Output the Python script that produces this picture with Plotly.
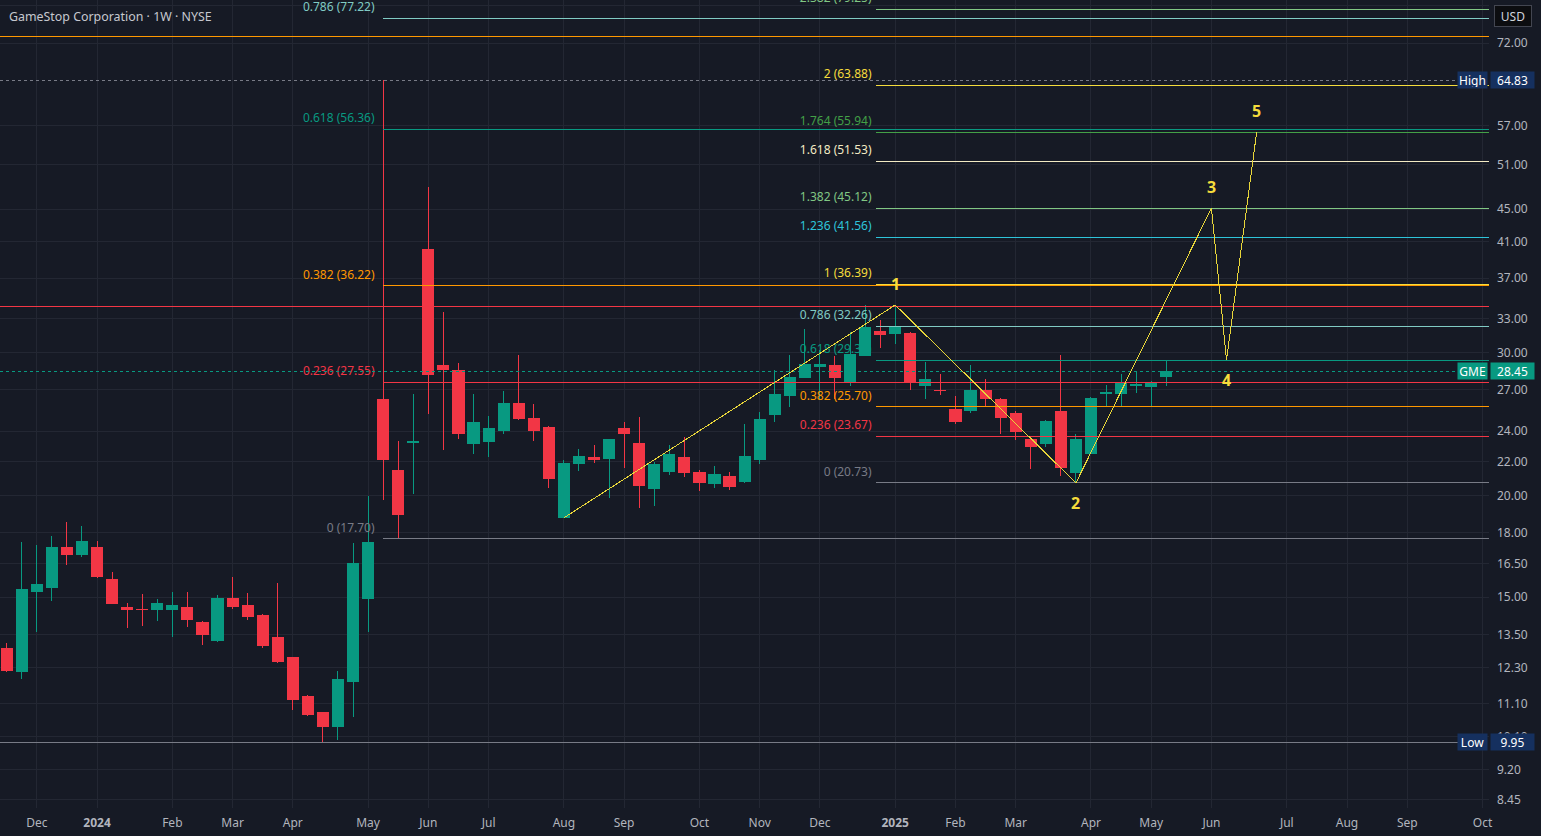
import numpy as np
import pandas as pd
import plotly.graph_objects as go

# weekly candles, GME, 20 Nov 2023 -> 12 May 2025
weeks = pd.date_range("2023-11-20", periods=78, freq="W-MON")
opens = [12.99, 12.15, 15.24, 15.41, 17.25, 16.92, 17.25, 15.75, 14.59, 14.50,
         14.48, 14.48, 14.59, 13.95, 13.26, 14.93, 14.64, 14.23, 13.40, 12.63,
         11.31, 10.81, 10.40, 11.81, 14.94, 26.28, 21.50, 23.25, 40.08, 28.94,
         28.53, 23.17, 23.30, 24.02, 25.92, 24.86, 24.22, 18.78, 21.89, 22.30,
         22.20, 24.15, 23.19, 20.39, 21.44, 22.30, 21.32, 20.68, 21.08, 20.79,
         22.14, 25.15, 26.55, 27.92, 28.86, 28.94, 27.58, 29.72, 31.78, 31.61,
         31.60, 27.30, 26.94, 25.55, 25.43, 26.96, 26.28, 25.20, 23.41, 23.17,
         25.34, 21.33, 22.51, 26.69, 26.69, 27.30, 27.23, 28.01]
highs = [13.17, 17.54, 17.39, 17.84, 18.56, 18.36, 17.59, 16.12, 14.76, 15.14,
         14.93, 15.22, 15.22, 14.03, 15.10, 15.88, 15.18, 14.31, 15.62, 12.68,
         11.38, 10.84, 12.18, 17.49, 20.00, 64.83, 23.34, 26.66, 47.94, 33.63,
         29.10, 26.66, 25.05, 26.89, 29.78, 25.92, 24.36, 22.12, 22.81, 23.08,
         23.50, 24.63, 24.98, 22.01, 23.08, 23.61, 21.50, 21.75, 21.38, 24.49,
         25.34, 28.53, 29.78, 32.05, 30.20, 29.69, 31.78, 34.30, 32.87, 34.30,
         31.78, 29.21, 28.21, 26.51, 28.94, 27.82, 26.38, 25.43, 23.45, 24.77,
         29.78, 23.81, 26.43, 27.35, 28.21, 28.37, 27.66, 29.35]
lows = [12.15, 11.90, 13.58, 14.86, 16.45, 16.83, 15.85, 14.70, 13.73, 13.84,
        14.04, 13.42, 13.77, 13.11, 13.21, 14.52, 14.08, 13.00, 12.45, 10.91,
        10.73, 9.95, 10.01, 10.70, 13.61, 19.75, 17.70, 20.11, 25.21, 22.77,
        23.50, 22.51, 22.33, 23.83, 24.80, 23.36, 20.45, 18.75, 21.46, 21.96,
        19.88, 21.64, 19.33, 19.44, 21.20, 21.10, 20.28, 20.45, 20.33, 20.74,
        21.89, 24.65, 25.72, 27.90, 26.21, 26.30, 27.26, 29.70, 30.40, 30.75,
        26.98, 26.31, 26.61, 24.51, 25.29, 25.72, 23.83, 23.43, 21.58, 22.96,
        21.16, 20.73, 22.48, 25.72, 25.79, 26.75, 25.72, 27.30]
closes = [12.19, 15.31, 15.53, 17.25, 16.92, 17.54, 15.90, 14.73, 14.48, 14.48,
          14.72, 14.64, 14.08, 13.50, 14.93, 14.61, 14.20, 13.08, 12.49, 11.23,
          10.76, 10.40, 11.90, 16.48, 17.49, 22.16, 18.93, 23.30, 28.15, 28.61,
          23.83, 24.63, 24.15, 25.99, 24.86, 24.02, 20.98, 21.93, 22.37, 22.14,
          23.41, 23.83, 20.57, 21.81, 22.44, 21.33, 20.74, 21.20, 20.51, 22.37,
          24.84, 26.59, 27.90, 29.02, 29.02, 27.92, 29.78, 32.15, 31.51, 32.23,
          27.51, 27.74, 26.91, 24.65, 26.96, 26.30, 24.93, 23.95, 22.96, 24.70,
          21.64, 23.47, 26.36, 26.76, 27.43, 27.38, 27.43, 28.45]

last_price = 28.45
high_price = 64.83
low_price = 9.95

# fib retracement drawn from the May 2024 spike
fib1_start = "2024-05-13"
fib1_levels = ["0", "0.236", "0.382", "0.618", "0.786"]
fib1_prices = [17.70, 27.55, 36.22, 56.36, 77.22]
fib1_colors = ["#787B86", "#F23645", "#FF9800", "#089981", "#80CBC4"]

# trend-based extension for the wave count
fib2_start = "2024-12-28"
fib2_levels = ["0", "0.236", "0.382", "0.618", "0.786", "1", "1.236", "1.382",
               "1.618", "1.764", "2", "2.382"]
fib2_prices = [20.73, 23.67, 25.70, 29.35, 32.26, 36.39, 41.56, 45.12,
               51.53, 55.94, 63.88, 79.25]
fib2_colors = ["#787B86", "#F23645", "#FF9800", "#089981", "#80CBC4", "#F5DC3C",
               "#2EC4DA", "#81C784", "#F3EBC4", "#43A047", "#F5DC3C", "#81C784"]

# plain horizontal lines
hlines = [73.44, 34.15]
hline_colors = ["#FF9800", "#F23645"]

# elliott wave count
wave_dates = ["2024-08-05", "2025-01-06", "2025-03-31", "2025-06-02", "2025-06-09", "2025-06-23"]
wave_prices = [18.78, 34.30, 20.73, 45.12, 29.35, 55.94]
wave_labels = ["", "1", "2", "3", "4", "5"]

tick_prices = [80.0, 72.0, 57.0, 51.0, 45.0, 41.0, 37.0, 33.0, 30.0, 27.0, 24.0, 22.0,
               20.0, 18.0, 16.5, 15.0, 13.5, 12.3, 11.1, 10.1, 9.2, 8.45]
month_ticks = ["2023-12-04", "2024-01-01", "2024-02-05", "2024-03-04", "2024-04-01",
               "2024-05-06", "2024-06-03", "2024-07-01", "2024-08-05", "2024-09-02",
               "2024-10-07", "2024-11-04", "2024-12-02", "2025-01-06", "2025-02-03",
               "2025-03-03", "2025-04-07", "2025-05-05", "2025-06-02", "2025-07-07",
               "2025-08-04", "2025-09-01", "2025-10-06"]
month_names = ["Dec", "<b>2024</b>", "Feb", "Mar", "Apr", "May", "Jun", "Jul", "Aug", "Sep",
               "Oct", "Nov", "Dec", "<b>2025</b>", "Feb", "Mar", "Apr", "May", "Jun", "Jul",
               "Aug", "Sep", "Oct"]

x_left = pd.Timestamp("2024-01-01") - pd.Timedelta(days=45.1)
x_right = pd.Timestamp("2024-01-01") + pd.Timedelta(days=647.0)
x_label_end = pd.Timestamp("2024-01-01") + pd.Timedelta(days=633.0)

BG = "#161A25"
GRID = "#232733"
TXT = "#B2B5BE"
FONT = "Noto Sans"

fig = go.Figure()

# fib labels first so candles sit on top of them
for start, levels, prices, colors, gap in [
        (fib1_start, fib1_levels, fib1_prices, fib1_colors, 4),
        (fib2_start, fib2_levels, fib2_prices, fib2_colors, 2)]:
    for lv, p, c in zip(levels, prices, colors):
        fig.add_trace(go.Scatter(
            x=[pd.Timestamp(start) - pd.Timedelta(days=gap)], y=[p * 1.012],
            mode="text", text=[f"{lv} ({p:.2f})"], textposition="top left",
            textfont=dict(color=c, size=12, family=FONT), cliponaxis=False,
            hoverinfo="skip", showlegend=False))

fig.add_trace(go.Candlestick(
    x=weeks, open=opens, high=highs, low=lows, close=closes,
    increasing=dict(line=dict(color="#089981", width=1), fillcolor="#089981"),
    decreasing=dict(line=dict(color="#F23645", width=1), fillcolor="#F23645"),
    hoverinfo="skip", showlegend=False))

for start, prices, colors in [(fib1_start, fib1_prices, fib1_colors),
                               (fib2_start, fib2_prices, fib2_colors)]:
    for p, c in zip(prices, colors):
        fig.add_trace(go.Scatter(x=[start, x_right], y=[p, p], mode="lines",
                                 line=dict(color=c, width=1),
                                 hoverinfo="skip", showlegend=False))

for p, c in zip(hlines, hline_colors):
    fig.add_trace(go.Scatter(x=[x_left, x_right], y=[p, p], mode="lines",
                             line=dict(color=c, width=1),
                             hoverinfo="skip", showlegend=False))

fig.add_trace(go.Scatter(x=[x_left, x_label_end], y=[high_price, high_price], mode="lines",
                         line=dict(color="#787B86", width=1, dash="dot"),
                         hoverinfo="skip", showlegend=False))
fig.add_trace(go.Scatter(x=[x_left, x_label_end], y=[low_price, low_price], mode="lines",
                         line=dict(color="#787B86", width=1),
                         hoverinfo="skip", showlegend=False))
fig.add_trace(go.Scatter(x=[x_left, x_label_end], y=[last_price, last_price], mode="lines",
                         line=dict(color="#089981", width=1, dash="dot"),
                         hoverinfo="skip", showlegend=False))

fig.add_trace(go.Scatter(x=wave_dates, y=wave_prices, mode="lines",
                         line=dict(color="#E8D63A", width=1),
                         hoverinfo="skip", showlegend=False))

annotations = []
for i, (d, p, lab) in enumerate(zip(wave_dates, wave_prices, wave_labels)):
    if not lab:
        continue
    up = i % 2 == 1
    annotations.append(dict(x=d, y=np.log10(p), xref="x", yref="y", text=f"<b>{lab}</b>",
                            showarrow=False, yshift=21 if up else -20,
                            font=dict(color="#F5DC3C", size=16, family=FONT)))

annotations.append(dict(x=0, y=1, xref="paper", yref="paper", xanchor="left", yanchor="top",
                        xshift=7, yshift=-6, showarrow=False,
                        text="GameStop Corporation · 1W · NYSE",
                        font=dict(color="#C6C8CF", size=12.4, family=FONT)))
annotations.append(dict(x=1, y=1, xref="paper", yref="paper", xanchor="left", yanchor="top",
                        xshift=5, yshift=-5, showarrow=False, text="USD", width=34, height=18,
                        bgcolor="#0C0D10", bordercolor="#434651", borderwidth=1,
                        font=dict(color="#D1D4DC", size=12, family=FONT)))

for lab, val, col in [("GME", last_price, "#089981"), ("High", high_price, "#15305F"),
                      ("Low", low_price, "#15305F")]:
    annotations.append(dict(x=1, y=np.log10(val), xref="paper", yref="y", xanchor="right",
                            xshift=-1, showarrow=False, text=lab, width=27, height=14,
                            bgcolor=col, font=dict(color="white", size=12, family=FONT)))
    annotations.append(dict(x=1, y=np.log10(val), xref="paper", yref="y", xanchor="left",
                            xshift=1, showarrow=False, text=f"{val:.2f}", width=41, height=14,
                            bgcolor=col, font=dict(color="white", size=12, family=FONT)))

fig.update_layout(
    width=1541, height=836,
    margin=dict(l=0, r=52, t=0, b=28),
    paper_bgcolor=BG, plot_bgcolor=BG,
    font=dict(family=FONT, color=TXT, size=12),
    annotations=annotations,
    showlegend=False,
    hovermode=False,
    boxgap=0.14, boxgroupgap=0.14,
    xaxis=dict(type="date", range=[x_left, x_right], rangeslider=dict(visible=False),
               tickvals=month_ticks, ticktext=month_names, showgrid=True, gridcolor=GRID,
               zeroline=False, showline=False, ticks="", ticklabelstandoff=6,
               tickfont=dict(color=TXT, size=12, family=FONT)),
    yaxis=dict(type="log", side="right",
               range=[np.log10(8.26), np.log10(81.32)],
               tickvals=tick_prices, ticktext=[f"{t:.2f}" for t in tick_prices],
               showgrid=True, gridcolor=GRID, zeroline=False, showline=False, ticks="",
               ticklabelstandoff=7,
               tickfont=dict(color=TXT, size=12, family=FONT)),
)

crisp = ("document.body.style.margin='0';document.body.style.background='#161A25';"
         "document.querySelectorAll('.scatterlayer path.js-line, .boxlayer path')"
         ".forEach(function(p){p.style.shapeRendering='crispEdges';});")
fig.write_html("out.html", config={"displayModeBar": False}, post_script=crisp)
